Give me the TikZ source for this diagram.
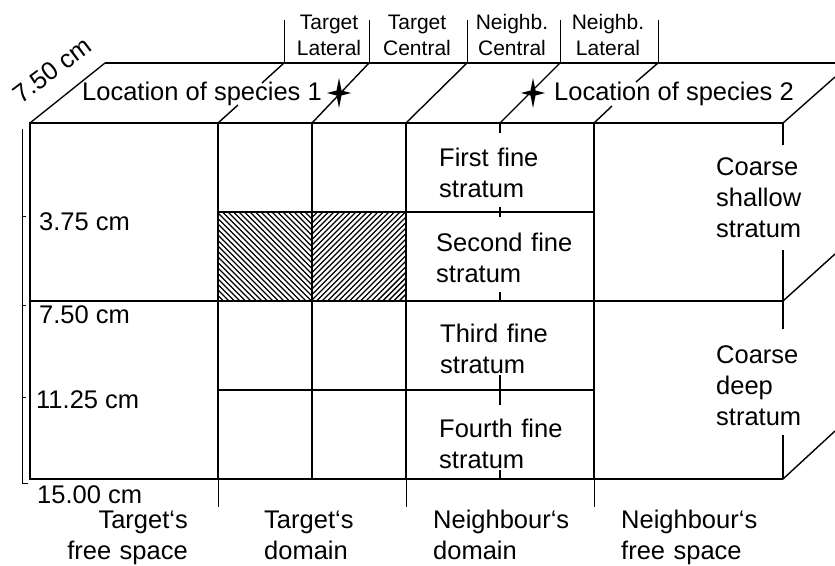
\documentclass[tikz,border=0pt]{standalone}
\usepackage{fontspec}
\setmainfont{Liberation Sans}
\begin{document}
\begin{tikzpicture}[x=1pt,y=-1pt,
  front/.style={line width=2pt},
  depthline/.style={line width=1.4pt},
  thinline/.style={line width=1pt},
  hatchline/.style={line width=1.4pt},
  lbl/.style={inner sep=0pt, font=\fontsize{25.5}{31}\selectfont},
  toplbl/.style={inner sep=0pt, font=\fontsize{21}{26.5}\selectfont, text width=90pt, align=center, anchor=base},
  cell/.style={lbl, text width=140pt, align=left, anchor=base west},
  coarse/.style={lbl, text width=110pt, align=left, anchor=base west},
  spstar/.pic={\fill (0,-15) -- (2.5,-2.5) -- (12,0) -- (2.5,2.5) -- (0,15) -- (-2.5,2.5) -- (-12,0) -- (-2.5,-2.5) -- cycle;}]
\useasboundingbox (0,0) rectangle (835,565);

% hatching
\begin{scope}
  \clip (218,212) rectangle (312,301);
  \foreach \k in {0,...,34} \draw[hatchline] ({129+\k*5.5},212) -- ++(89,89);
\end{scope}
\begin{scope}
  \clip (312,212) rectangle (406,301);
  \foreach \k in {0,...,34} \draw[hatchline] ({312+\k*5.5},212) -- ++(-89,89);
\end{scope}

% front face
\draw[front] (783,123) -- (30,123) -- (30,479) -- (783,479);
\draw[front] (30,301) -- (783,301);
\foreach \x in {218,312,406,594} \draw[front] (\x,123) -- (\x,479);
\draw[front] (218,212) -- (594,212);
\draw[front] (218,390) -- (594,390);
\draw[front] (783,123) -- (783,145);
\draw[front] (783,250) -- (783,329);
\draw[front] (783,435) -- (783,479);
\draw[front] (500,123) -- (500,133);
\draw[front] (500,207) -- (500,217);
\draw[front] (500,292) -- (500,301);
\draw[front] (500,375) -- (500,405);
\draw[front] (500,470) -- (500,479);

% top face
\draw[depthline] (105,63) -- (835,63);
\draw[depthline] (30,123) -- (105,63);
\draw[depthline] (218,123) -- (238,105);
\draw[depthline] (262,83) -- (284,63);
\draw[depthline] (312,123) -- (369,63);
\draw[depthline] (406,123) -- (467,63);
\draw[depthline] (500,123) -- (560,63);
\draw[depthline] (594,123) -- (612,106);
\draw[depthline] (636,82) -- (658,63);
\draw[depthline] (783,123) -- (835,77);
\draw[depthline] (783,301) -- (835,254);
\draw[depthline] (783,479) -- (835,431);

% column marks on top
\foreach \x in {284,369,467,560,658} \draw[thinline] (\x,20) -- (\x,63);
% column marks below
\foreach \x in {218,406,594} \draw[thinline] (\x,479) -- (\x,507);

% depth bracket
\draw[thinline] (22,129) -- (22,483) -- (28,483);
\foreach \y in {216,305,397} \draw[thinline] (22,\y) -- (26,\y);

% stars
\pic at (339,93) {spstar};
\pic at (533,93) {spstar};

% labels
\node[lbl, anchor=base west] (loc1) at (82,100) {Location of species 1};
\node[lbl, anchor=base west] (loc2) at (554,100) {Location of species 2};
\node[lbl, rotate=37] (depthlbl) at (52,70) {7.50 cm};

\node[toplbl] (tlat) at (329,29) {Target\\Lateral};
\node[toplbl] (tcen) at (417,29) {Target\\Central};
\node[toplbl] (ncen) at (512,29) {Neighb.\\Central};
\node[toplbl] (nlat) at (608,29) {Neighb.\\Lateral};

\node[lbl, anchor=base west] (d1) at (39,230) {3.75 cm};
\node[lbl, anchor=base west] (d2) at (39,323) {7.50 cm};
\node[lbl, anchor=base west] (d3) at (36,408) {11.25 cm};
\node[lbl, anchor=base west] (d4) at (37,503) {15.00 cm};

\node[cell] (s1) at (439,166) {First fine\\stratum};
\node[cell] (s2) at (436,251) {Second fine\\stratum};
\node[cell] (s3) at (440,342) {Third fine\\stratum};
\node[cell] (s4) at (439,437) {Fourth fine\\stratum};
\node[coarse] (cs) at (716,175) {Coarse\\shallow\\stratum};
\node[coarse] (cd) at (716,363) {Coarse\\deep\\stratum};

\node[lbl, text width=140pt, align=right, anchor=base east] (tfs) at (188,528) {Target‘s\\free space};
\node[lbl, text width=140pt, align=left, anchor=base west] (tdm) at (264,528) {Target‘s\\domain};
\node[lbl, text width=150pt, align=left, anchor=base west] (ndm) at (433,528) {Neighbour‘s\\domain};
\node[lbl, text width=150pt, align=left, anchor=base west] (nfs) at (621,528) {Neighbour‘s\\free space};
\end{tikzpicture}
\end{document}
